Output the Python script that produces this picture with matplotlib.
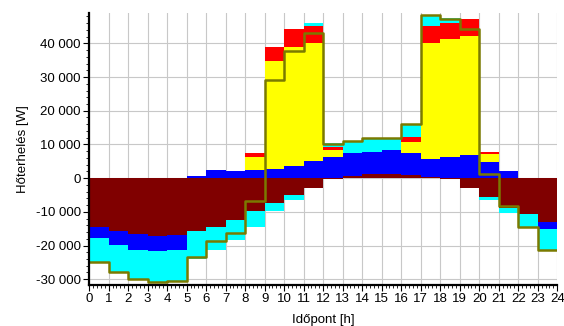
import numpy as np
import matplotlib
matplotlib.use("Agg")
import matplotlib.pyplot as plt
from matplotlib.ticker import FuncFormatter, MultipleLocator

plt.rcParams["font.family"] = ["Liberation Sans", "DejaVu Sans"]

# óránkénti hőterhelés komponensek [W]
hours = np.arange(24)
transmission = [-14400, -15800, -16500, -17100, -17000, -15800, -14400, -12400,
                -9900, -7400, -5000, -3000, -400, 500, 1200, 1300,
                900, 300, -300, -3000, -5500, -8900, -10600, -12900]
internal = [-3400, -4000, -4700, -4400, -4300, 500, 2500, 2000,
            2300, 2700, 3700, 5200, 6200, 6900, 6700, 6900,
            6500, 5400, 6200, 6900, 4900, 2000, 0, -2100]
solar = [0, 0, 0, 0, 0, 0, 0, 0,
         4100, 32100, 35350, 34850, 2000, 0, 0, 0,
         3400, 34530, 35040, 35320, 2200, 0, 0, 0]
people = [0, 0, 0, 0, 0, 0, 0, 0,
          1100, 4250, 5150, 5140, 1100, 0, 0, 0,
          1500, 4960, 4930, 4950, 600, 0, 0, 0]
ventilation = [-7200, -8100, -8600, -9200, -9200, -8200, -6900, -5900,
               -4500, -2500, -1500, 1000, 1200, 3700, 3960, 3770,
               3800, 3260, 1300, 0, -1000, -1500, -3800, -6200]

series = [transmission, internal, solar, people, ventilation]
colors = ["#800000", "#0000ff", "#ffff00", "#ff0000", "#00ffff"]

fig = plt.figure(figsize=(5.64, 3.26), dpi=100)
ax = fig.add_axes([0.158, 0.126, 0.830, 0.834])

# pozitív és negatív részek külön halmozva
pos_base = np.zeros(len(hours))
neg_base = np.zeros(len(hours))
for vals, c in zip(series, colors):
    v = np.array(vals, dtype=float)
    p = np.where(v > 0, v, 0)
    n = np.where(v < 0, v, 0)
    ax.bar(hours, p, bottom=pos_base, width=1, align="edge", color=c, linewidth=0, zorder=2)
    ax.bar(hours, n, bottom=neg_base, width=1, align="edge", color=c, linewidth=0, zorder=2)
    pos_base += p
    neg_base += n

total = np.sum(np.array(series, dtype=float), axis=0)
ax.step(np.arange(25), np.append(total, total[-1]), where="post",
        color="#7a7a00", linewidth=1.8, zorder=3)

ax.set_xlim(0, 24)
ax.set_ylim(-31700, 49000)
ax.xaxis.set_major_locator(MultipleLocator(1))
ax.xaxis.set_minor_locator(MultipleLocator(0.2))
ax.yaxis.set_major_locator(MultipleLocator(10000))
ax.yaxis.set_minor_locator(MultipleLocator(2000))
ax.yaxis.set_major_formatter(FuncFormatter(lambda v, _: f"{v:,.0f}".replace(",", " ")))

ax.grid(True, which="major", color="#c8c8c8", linewidth=0.8, zorder=0)
ax.set_axisbelow(True)
for s in ["top", "right"]:
    ax.spines[s].set_visible(False)
for s in ["left", "bottom"]:
    ax.spines[s].set_linewidth(1.6)
    ax.spines[s].set_zorder(4)

ax.tick_params(axis="both", which="major", labelsize=9.5, length=4, width=0.8, pad=2)
ax.tick_params(axis="both", which="minor", length=2, width=0.6)
ax.set_xlabel("Időpont [h]", fontsize=9.5, labelpad=6)
ax.set_ylabel("Hőterhelés [W]", fontsize=9.5, labelpad=5)

fig.savefig("out.png", dpi=100)
